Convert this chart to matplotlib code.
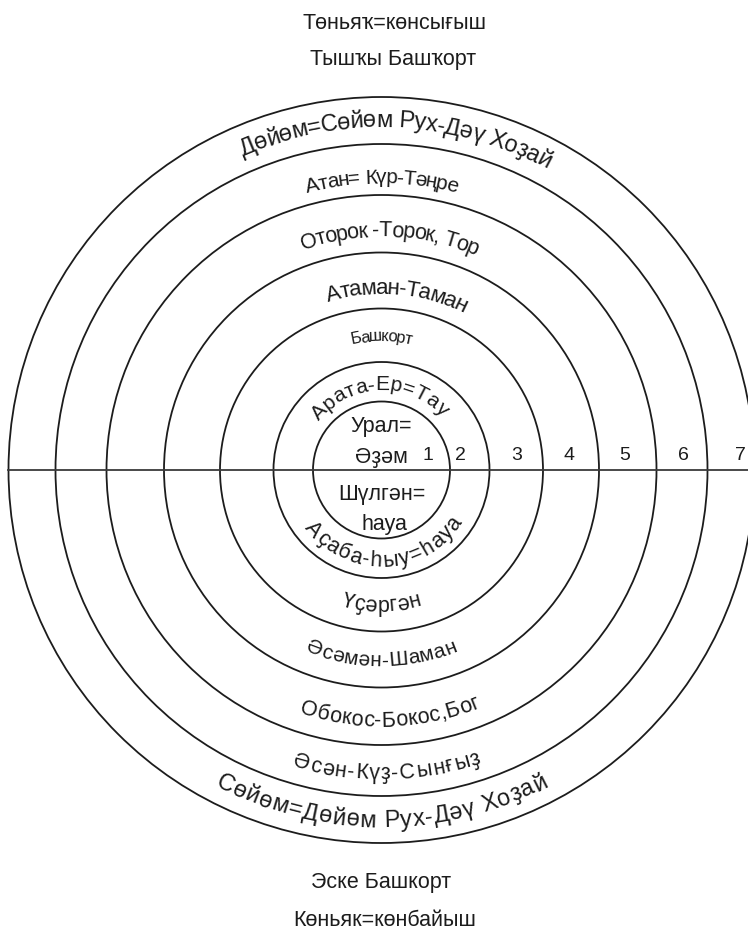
import numpy as np
import matplotlib
matplotlib.use('Agg')
import matplotlib.pyplot as plt
from matplotlib.patches import Circle
from matplotlib.font_manager import FontProperties

W, H, DPI = 748, 931, 100
FAMILY = ['Liberation Sans', 'DejaVu Sans']
plt.rcParams['font.family'] = FAMILY

# ---------------- data ----------------
center = (381.5, 470.0)
ring_radii = [68.5, 108, 161.5, 217.5, 275, 326, 373]
ring_numbers = ['1', '2', '3', '4', '5', '6', '7']
number_offsets = [46.5, 78.5, 135.5, 187.5, 243.5, 301.5, 358.5]

upper_texts = ['Дөйөм=Сөйөм Рух-Дәү Хоҙай', 'Атан= Күр-Тәңре', 'Оторок -Торок, Тор',
               'Атаман-Таман', 'Башкорт', 'Арата-Ер=Тау']
upper_radius = [350, 293, 240, 183, 134, 86]
upper_angle = [87.5, 90, 88, 85, 90, 92]
upper_span = [52.5, 30, 43, 45, 26, 100]
upper_size = [17, 15, 15.5, 16, 12, 15]

lower_texts = ['Сөйөм=Дөйөм Рух-Дәү Хоҙай', 'Әсән-Күҙ-Сынғыҙ', 'Обокос-Бокос,Бог',
               'Әсәмән-Шаман', 'Үҫәргән', 'Аҫаба-һыу=һауа']
lower_radius = [350, 303, 250, 190, 135, 90]
lower_angle = [270, 271, 272, 270, 270, 272]
lower_span = [56, 36, 41.5, 46, 34, 111]
lower_size = [17, 15.5, 15.5, 15, 15.5, 15.5]

inner_texts = ['Урал=', 'Әҙәм', 'Шүлгән=', 'һауа']
inner_pos = [(381, 432), (381, 463), (382, 500), (384, 530)]

outer_texts = ['Төньяҡ=көнсығыш', 'Тышҡы Башҡорт', 'Эске Башкорт', 'Көньяк=көнбайыш']
outer_pos = [(395, 29), (393, 65), (381, 888), (385, 926)]

# ---------------- figure ----------------
fig = plt.figure(figsize=(W / DPI, H / DPI), dpi=DPI)
ax = fig.add_axes([0, 0, 1, 1])
ax.set_xlim(0, W)
ax.set_ylim(H, 0)
ax.axis('off')
renderer = fig.canvas.get_renderer()

cx, cy = center
ink = '#1c1c1c'
for r in ring_radii:
    ax.add_patch(Circle(center, r, fill=False, lw=1.3, ec=ink))
ax.plot([cx - ring_radii[-1], W], [cy, cy], color='#3a3a3a', lw=1.3)

for lab, off in zip(ring_numbers, number_offsets):
    ax.text(cx + off, cy - 10, lab, fontsize=14, ha='center', va='baseline', color=ink)


def text_width(s, prop):
    w, h, d = renderer.get_text_width_height_descent(s, prop, ismath=False)
    return w


def char_widths(s, prop):
    base = text_width('HH', prop)
    return [text_width('H' + c + 'H', prop) - base for c in s]


def arc_text(s, r_mid, theta_c, span, side, size):
    prop = FontProperties(family=FAMILY, size=size)
    ws = np.array(char_widths(s, prop))
    em = size * DPI / 72
    rb = r_mid - 0.3 * em if side == 'top' else r_mid + 0.3 * em
    target = np.radians(span) * rb
    factor = max(target / ws.sum(), 0.8)
    ws = ws * factor
    total = ws.sum()
    cum = 0.0
    for c, w in zip(s, ws):
        si = cum + w / 2
        cum += w
        if side == 'top':
            th = np.radians(theta_c) + (total / 2 - si) / rb
            rot = np.degrees(th) - 90
        else:
            th = np.radians(theta_c) - (total / 2 - si) / rb
            rot = np.degrees(th) - 270
        ax.text(cx + rb * np.cos(th), cy - rb * np.sin(th), c, fontsize=size,
                rotation=rot, rotation_mode='anchor', ha='center', va='baseline',
                color=ink)


for s, r, a, sp, fs in zip(upper_texts, upper_radius, upper_angle, upper_span, upper_size):
    arc_text(s, r, a, sp, 'top', fs)
for s, r, a, sp, fs in zip(lower_texts, lower_radius, lower_angle, lower_span, lower_size):
    arc_text(s, r, a, sp, 'bottom', fs)

for s, (x, y) in zip(inner_texts, inner_pos):
    ax.text(x, y, s, fontsize=15.5, ha='center', va='baseline', color=ink)
for s, (x, y) in zip(outer_texts, outer_pos):
    ax.text(x, y, s, fontsize=15.5, ha='center', va='baseline', color=ink)

fig.savefig('out.png', dpi=DPI, facecolor='white')
